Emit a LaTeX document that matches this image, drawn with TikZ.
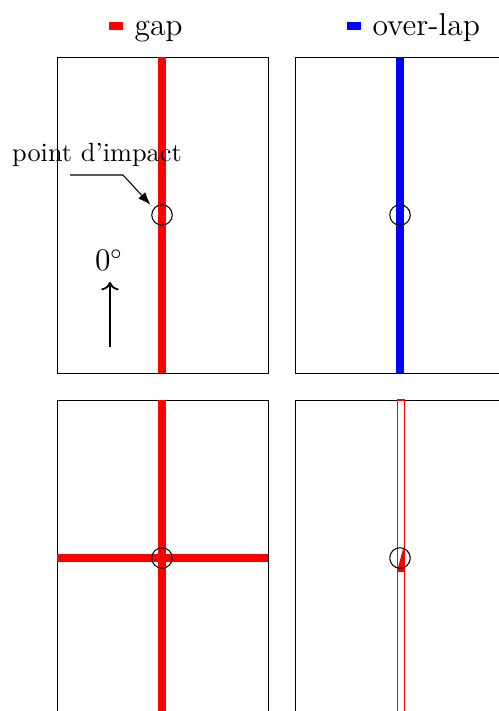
\documentclass[tikz,border=0pt]{standalone}
\usepackage{amsmath,amssymb}
\usepackage{xcolor}
\usetikzlibrary{arrows.meta,positioning,calc}
\tikzset{
	frame/.style={draw, line width=0.35pt},
	crack/.style={line width=2.7pt},
	impact/.style={draw, circle, minimum size=7.8pt, inner sep=0pt, line width=0.4pt},
	arrow/.style={-Latex, line width=0.4pt},
	legendtext/.style={font=\large, anchor=base west, inner sep=0pt}
}

\begin{document}
\begin{tikzpicture}[x=0.38pt, y=-0.38pt]
	\useasboundingbox (0,0) rectangle (499,711);
	\clip (0,0) rectangle (499,711);

	%% -- Legend (top)
	\fill[red]  (109,22) rectangle (123,30);
	\node[legendtext] (gaplabel) at (134,36) {gap};
	\fill[blue] (347,22) rectangle (361,30);
	\node[legendtext] (overlabel) at (372,36) {over-lap};

	%% -- Panel frames
	\draw[frame] (57,57)   rectangle (268,373);
	\draw[frame] (295,57)  rectangle (515,373);
	\draw[frame] (57,400)  rectangle (268,720);
	\draw[frame] (295,400) rectangle (515,720);

	%% -- Top left: gap
	\draw[crack, red] (162,57) -- (162,373);
	\node[impact] (c1) at (162,215) {};
	\node[inner sep=0pt, anchor=base] (pointlabel) at (97,162) {point d'impact};
	\coordinate (pointstart) at (70,175);
	\draw[arrow] (pointstart) -- ++(53,0) -- ([shift={(-1.5pt,1pt)}]c1.135);
	\node[font=\large, inner sep=0pt, anchor=base] (anglelabel) at (109,271) {$0^\circ$};
	\coordinate (anglestart) at (110,347);
	\draw[->, line width=0.7pt] (anglestart) -- ([yshift=-4pt]anglelabel.south -| anglestart);

	%% -- Top right: over-lap
	\draw[crack, blue] (400,57) -- (400,373);
	\node[impact] (c2) at (400,215) {};

	%% -- Bottom left: crossing gaps
	\draw[crack, red] (162,400) -- (162,720);
	\draw[crack, red] (57,558) -- (268,558);
	\node[impact] (c3) at (162,558) {};

	%% -- Bottom right: narrow gap
	\draw[red, line width=0.45pt] (397.3,400) rectangle (404.3,720);
	\fill[red] (403,549) -- (397.3,570) -- (397.3,572) -- (404.3,572) -- (404.3,549) -- cycle;
	\node[impact] (c4) at (400,558) {};

\end{tikzpicture}
\end{document}
